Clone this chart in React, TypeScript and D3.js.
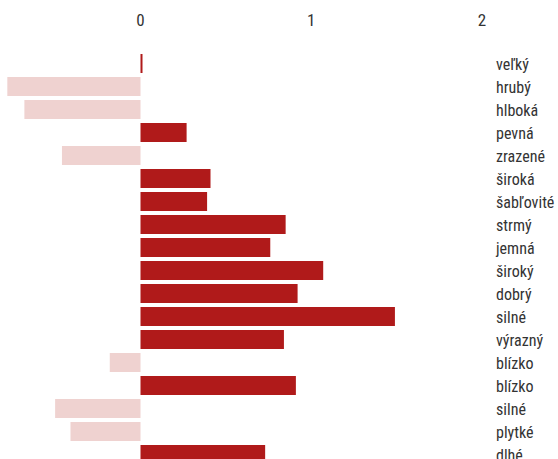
import * as d3 from 'd3';
import React, { useEffect, useRef } from 'react';

const words = [
  'veľký', 'hrubý', 'hlboká', 'pevná', 'zrazené', 'široká', 'šabľovité', 'strmý', 'jemná',
  'široký', 'dobrý', 'silné', 'výrazný', 'blízko', 'blízko', 'silné', 'plytké', 'dlhé',
];
const scores = [
  0.01, -0.78, -0.68, 0.27, -0.46, 0.41, 0.39, 0.85, 0.76,
  1.07, 0.92, 1.49, 0.84, -0.18, 0.91, -0.5, -0.41, 0.73,
];
const ticks = [0, 1, 2];

const width = 558;
const height = 459;

export default function App() {
  const svgRef = useRef<SVGSVGElement>(null);

  useEffect(() => {
    if (!svgRef.current) return;
    const svg = d3.select(svgRef.current);
    svg.selectAll('*').remove();

    const font = 'Roboto, sans-serif';

    const x = d3.scaleLinear().domain([0, 2]).range([140.5, 482]);
    const y = d3.scaleBand<number>()
      .domain(d3.range(words.length))
      .range([52, 52 + 23 * words.length])
      .paddingInner(4 / 23)
      .paddingOuter(2 / 23);

    // tick labels on top
    svg.append('g')
      .selectAll('text')
      .data(ticks)
      .join('text')
      .attr('x', d => x(d))
      .attr('y', 26)
      .attr('text-anchor', 'middle')
      .style('font-family', font)
      .style('font-stretch', '75%')
      .style('font-size', '17px')
      .style('font-weight', 400)
      .attr('fill', '#333')
      .text(d => d);

    // bars
    svg.append('g')
      .selectAll('rect')
      .data(scores)
      .join('rect')
      .attr('x', d => Math.min(x(0), x(d)))
      .attr('width', d => Math.max(Math.abs(x(d) - x(0)), 2))
      .attr('y', (_, i) => y(i) ?? 0)
      .attr('height', y.bandwidth())
      .attr('fill', d => (d >= 0 ? '#b01a1a' : '#efd2d0'));

    // word labels on right
    svg.append('g')
      .selectAll('text')
      .data(words)
      .join('text')
      .attr('x', 496)
      .attr('y', (_, i) => (y(i) ?? 0) + y.bandwidth() / 2)
      .attr('dy', '0.38em')
      .style('font-family', font)
      .style('font-stretch', '75%')
      .style('font-size', '16px')
      .style('font-weight', 400)
      .attr('fill', '#333')
      .text(d => d);
  }, []);

  return (
    <div style={{ position: 'absolute', left: 0, top: 0 }}>
      <svg ref={svgRef} width={width} height={height} style={{ display: 'block' }} />
    </div>
  );
}
